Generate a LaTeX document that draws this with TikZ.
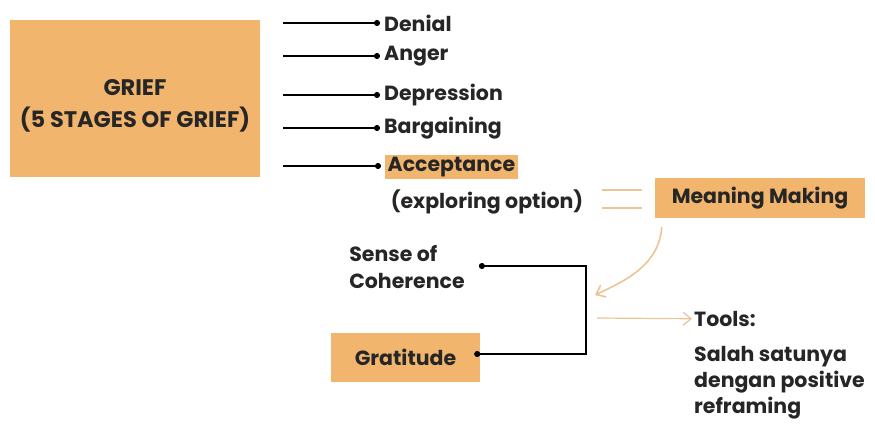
\documentclass[tikz,border=0pt]{standalone}
\usepackage{fontspec}
\setmainfont{Poppins}
\usetikzlibrary{arrows.meta}
\definecolor{griefor}{RGB}{242,181,110}
\definecolor{paleor}{RGB}{236,196,150}
\tikzset{
  lbl/.style={font=\bfseries\fontsize{20.5}{26}\selectfont, text=black!85, inner sep=2pt},
  obox/.style={lbl, fill=griefor},
  stagearrow/.style={line width=1.6pt, -{Circle[length=6pt]}},
  softarrow/.style={line width=1.6pt, paleor, -{Straight Barb[length=8pt,width=13pt]}}
}

\begin{document}
\begin{tikzpicture}[x=1pt,y=-1pt]
\useasboundingbox (0,0) rectangle (875,423);

\begin{scope}
\node[obox, minimum width=250pt, minimum height=157pt] (grief) at (135,98.5) {};
\node[lbl, align=center, font=\bfseries\fontsize{22.5}{32}\selectfont] (grieftext)
  at ([yshift=-7pt]grief.center) {GRIEF\\(5 STAGES OF GRIEF)};
\coordinate (s1) at (283,23);
\coordinate (s2) at (283,56);
\coordinate (s3) at (283,95);
\coordinate (s4) at (283,128);
\coordinate (s5) at (283,166);
\node[lbl, anchor=west, inner sep=4pt] (denial) at (380,23) {Denial};
\node[lbl, anchor=west, inner sep=4pt] (anger) at (380,56) {Anger};
\node[lbl, anchor=west, inner sep=4pt] (depression) at (380,95) {Depression};
\node[lbl, anchor=west, inner sep=4pt] (bargaining) at (380,128) {Bargaining};
\node[obox, anchor=west, inner sep=2.5pt] (acceptance) at (385,167) {Acceptance};
\draw[stagearrow] (s1) -- (denial);
\draw[stagearrow] (s2) -- (anger);
\draw[stagearrow] (s3) -- (depression);
\draw[stagearrow] (s4) -- (bargaining);
\draw[stagearrow, shorten >=4pt] (s5) -- (acceptance.west |- s5);
\end{scope}

\begin{scope}
\node[lbl] (explore) at (487,202) {(exploring option)};
\node[obox, minimum width=210pt, minimum height=40pt] (meaning) at (760,198) {Meaning Making};
\draw[line width=1.6pt, paleor] ([xshift=17pt,yshift=8pt]explore.east |- meaning.west) -- ([xshift=-13pt,yshift=8pt]meaning.west);
\draw[line width=1.6pt, paleor] ([xshift=17pt,yshift=-10pt]explore.east |- meaning.west) -- ([xshift=-13pt,yshift=-10pt]meaning.west);
\coordinate (bend) at (595,295);
\draw[softarrow] ([xshift=7pt,yshift=-9pt]meaning.south west) to[out=-95, in=25] (bend);
\end{scope}

\begin{scope}
\node[lbl, align=left, font=\bfseries\fontsize{20.5}{27}\selectfont] (coherence) at (407,267) {Sense of\\Coherence};
\node[obox, minimum width=149pt, minimum height=49pt] (gratitude) at (405.5,357.5) {Gratitude};
\coordinate (brtop) at (586,266);
\coordinate (brbot) at (586,354);
\draw[line width=1.6pt, {Circle[length=6pt]}-{Circle[length=6pt]}, shorten <=12pt, shorten >=-6pt]
  (coherence.east |- brtop) -- (brtop) -- (brbot) -- (gratitude.east |- brbot);
\coordinate (tstart) at (597,318);
\node[lbl, anchor=west] (tools) at (692,319) {Tools:};
\draw[softarrow, line width=1.2pt] (tstart) -- (tools);
\node[lbl, align=left, anchor=west] (reframe) at (692,383) {Salah satunya\\dengan positive\\reframing};
\end{scope}

\end{tikzpicture}
\end{document}
